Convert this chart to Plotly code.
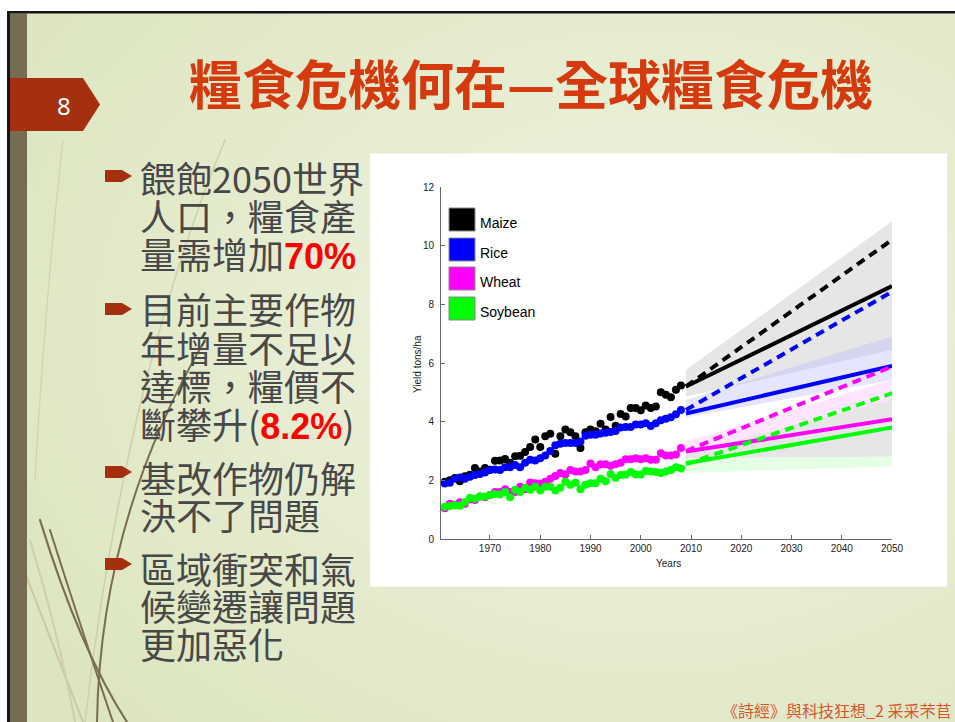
import base64
import plotly.graph_objects as go

W, H = 955, 722
def px(x): return x / W
def py(y): return 1 - y / H

# ---------------- data ----------------
crops = ["Maize", "Rice", "Wheat", "Soybean"]
crop_colors = ["#000000", "#0000FF", "#FF00FF", "#00FF00"]

years_hist = list(range(1961, 2009))
maize_hist = [1.95, 2.0, 2.08, 1.97, 2.14, 2.19, 2.42, 2.3, 2.42, 2.36,
              2.67, 2.68, 2.73, 2.6, 2.82, 2.84, 2.97, 3.14, 3.39, 3.14,
              3.5, 3.59, 2.91, 3.5, 3.73, 3.64, 3.5, 3.1, 3.64, 3.73,
              3.67, 3.93, 3.73, 4.16, 3.86, 4.26, 4.18, 4.47, 4.47, 4.39,
              4.55, 4.47, 4.52, 5.0, 4.92, 4.83, 5.09, 5.23]
rice_hist = [1.89, 1.92, 2.05, 2.1, 2.05, 2.12, 2.18, 2.22, 2.27, 2.35,
             2.37, 2.35, 2.45, 2.45, 2.52, 2.45, 2.6, 2.7, 2.68, 2.75,
             2.85, 3.0, 3.2, 3.25, 3.27, 3.27, 3.27, 3.32, 3.52, 3.55,
             3.55, 3.6, 3.62, 3.65, 3.68, 3.8, 3.82, 3.82, 3.9, 3.9,
             3.95, 3.85, 3.95, 4.05, 4.1, 4.15, 4.25, 4.4]
wheat_hist = [1.05, 1.2, 1.15, 1.25, 1.2, 1.35, 1.33, 1.45, 1.42, 1.5,
              1.6, 1.6, 1.7, 1.6, 1.6, 1.78, 1.7, 1.93, 1.9, 1.88,
              1.95, 2.05, 2.15, 2.25, 2.2, 2.35, 2.3, 2.3, 2.35, 2.57,
              2.45, 2.55, 2.55, 2.5, 2.55, 2.6, 2.72, 2.72, 2.75, 2.72,
              2.75, 2.7, 2.7, 2.92, 2.85, 2.85, 2.88, 3.1]
soy_hist = [1.1, 1.12, 1.15, 1.13, 1.25, 1.4, 1.37, 1.45, 1.45, 1.5,
            1.53, 1.52, 1.6, 1.42, 1.68, 1.6, 1.75, 1.68, 1.78, 1.65,
            1.78, 1.78, 1.65, 1.75, 1.95, 1.85, 1.92, 1.7, 1.85, 1.9,
            1.9, 2.05, 1.97, 2.22, 2.08, 2.18, 2.2, 2.28, 2.2, 2.2,
            2.32, 2.3, 2.28, 2.25, 2.3, 2.35, 2.45, 2.4]

proj_years = [2009, 2050]
maize_trend = [5.2, 8.62]
maize_needed = [5.2, 10.2]
rice_trend = [4.28, 5.9]
rice_needed = [4.4, 8.43]
wheat_trend = [2.98, 4.08]
wheat_needed = [3.0, 5.88]
soy_trend = [2.58, 3.8]
soy_needed = [2.55, 4.97]

# uncertainty bands (low, high) at 2009 and 2050
maize_band_lo = [4.85, 6.45]
maize_band_hi = [5.77, 10.83]
lower_band_lo = [2.76, 2.81]
lower_band_hi = [2.93, 4.74]
rice_band_lo = [4.15, 5.42]
rice_band_hi = [4.74, 6.9]
wheat_band_lo = [2.93, 4.74]
wheat_band_hi = [3.32, 5.42]
soy_band_lo = [2.25, 2.47]
soy_band_hi = [2.76, 2.81]

x_ticks = [1970, 1980, 1990, 2000, 2010, 2020, 2030, 2040, 2050]
y_ticks = [0, 2, 4, 6, 8, 10, 12]

title_text = "糧食危機何在—全球糧食危機"
slide_number = "8"
footer_text = "《詩經》與科技狂想_2 采采芣苢"
bullets = [
    ["餵飽2050世界", "人口，糧食產", "量需增加<b>70%</b>"],
    ["目前主要作物", "年增量不足以", "達標，糧價不", "斷攀升(<b>8.2%</b>)"],
    ["基改作物仍解", "決不了問題"],
    ["區域衝突和氣", "候變遷讓問題", "更加惡化"],
]

# ---------------- background (decoration) ----------------
tag_col = "#A5300F"
svg = f'''<svg xmlns="http://www.w3.org/2000/svg" width="{W}" height="{H}" viewBox="0 0 {W} {H}" preserveAspectRatio="none">
<defs><radialGradient id="g" cx="0.68" cy="0.45" r="0.8">
<stop offset="0" stop-color="#F0F4E2"/><stop offset="1" stop-color="#DCE5BF"/></radialGradient></defs>
<rect width="{W}" height="{H}" fill="#ffffff"/>
<rect x="8" y="12" width="{W-8}" height="{H-12}" fill="url(#g)"/>
<g fill="none" stroke-linecap="round">
<path d="M 225 140 Q 125 380 85 722" stroke="#CFCFA8" stroke-width="1.5"/>
<path d="M 63 140 Q 45 300 35 480" stroke="#D2D2AE" stroke-width="1.2"/>
<path d="M 20 560 Q 55 650 83 722" stroke="#C9C9A2" stroke-width="2"/>
<path d="M 30 540 Q 60 640 75 722" stroke="#CFCFAA" stroke-width="2"/>
<path d="M 205 340 Q 100 520 97 722" stroke="#7A6E50" stroke-width="2"/>
<path d="M 40 520 Q 80 650 127 722" stroke="#7A6E50" stroke-width="2.2"/>
<path d="M 50 530 Q 85 640 113 722" stroke="#7A6E50" stroke-width="2"/>
</g>
<rect x="10" y="13.5" width="17" height="{H}" fill="#756C53"/>
<rect x="7" y="11" width="{W-7}" height="2.5" fill="#151515"/>
<rect x="7" y="11" width="3" height="{H}" fill="#151515"/>
<polygon points="10,78 83,78 100,104.5 83,131 10,131" fill="{tag_col}"/>
<polygon points="105,170 122,170 132,176 122,182 105,182" fill="{tag_col}"/>
<polygon points="105,303 122,303 132,309 122,315 105,315" fill="{tag_col}"/>
<polygon points="105,466 122,466 132,472 122,478 105,478" fill="{tag_col}"/>
<polygon points="105,558 122,558 132,564 122,570 105,570" fill="{tag_col}"/>
<rect x="370" y="153.5" width="577" height="433" fill="#ffffff"/>
</svg>'''
svg_uri = "data:image/svg+xml;base64," + base64.b64encode(svg.encode("utf-8")).decode()

fig = go.Figure()

def band(lo, hi, color):
    fig.add_trace(go.Scatter(
        x=proj_years + proj_years[::-1], y=lo + hi[::-1],
        fill="toself", fillcolor=color, line=dict(width=0),
        mode="lines", hoverinfo="skip", showlegend=False))

band(maize_band_lo, maize_band_hi, "rgba(200,200,200,0.45)")
band(lower_band_lo, lower_band_hi, "rgba(200,200,200,0.45)")
band(rice_band_lo, rice_band_hi, "rgba(180,180,255,0.35)")
band(wheat_band_lo, wheat_band_hi, "rgba(255,170,255,0.30)")
band(soy_band_lo, soy_band_hi, "rgba(170,255,170,0.30)")

trends = [maize_trend, rice_trend, wheat_trend, soy_trend]
needed = [maize_needed, rice_needed, wheat_needed, soy_needed]
for name, col, t, n in zip(crops, crop_colors, trends, needed):
    fig.add_trace(go.Scatter(x=proj_years, y=n, mode="lines",
                             line=dict(color=col, width=4, dash="9px,6px"),
                             showlegend=False, name=name + " needed"))
    fig.add_trace(go.Scatter(x=proj_years, y=t, mode="lines",
                             line=dict(color=col, width=4),
                             showlegend=False, name=name + " trend"))

hists = [maize_hist, rice_hist, wheat_hist, soy_hist]
for name, col, h in zip(crops, crop_colors, hists):
    fig.add_trace(go.Scatter(x=years_hist, y=h, mode="markers",
                             marker=dict(color=col, size=8, line=dict(width=0)),
                             showlegend=False, name=name))

# legend drawn as boxes + labels
shapes = []
annotations = []
leg_tops = [208, 238, 267, 297]
for name, col, top in zip(crops, crop_colors, leg_tops):
    shapes.append(dict(type="rect", xref="paper", yref="paper",
                       x0=px(449), x1=px(475), y0=py(top + 23), y1=py(top),
                       fillcolor=col, line=dict(color="#888888", width=1)))
    annotations.append(dict(text=name, x=px(478), y=py(top + 15), xref="paper", yref="paper",
                            xanchor="left", yanchor="middle", showarrow=False,
                            font=dict(family="Liberation Sans, Arial", size=14, color="#000000")))

# axis titles
annotations.append(dict(text="Years", x=px(668), y=py(563), xref="paper", yref="paper",
                        xanchor="center", yanchor="middle", showarrow=False,
                        font=dict(family="Liberation Sans, Arial", size=10, color="#222222")))
annotations.append(dict(text="Yield tons/ha", x=px(418), y=py(364), xref="paper", yref="paper",
                        xanchor="center", yanchor="middle", showarrow=False, textangle=-90,
                        font=dict(family="Liberation Sans, Arial", size=10, color="#222222")))

# slide title, number, footer
annotations.append(dict(text="<b>" + title_text + "</b>", x=px(531), y=py(82), xref="paper", yref="paper",
                        xanchor="center", yanchor="middle", showarrow=False,
                        font=dict(family="Noto Sans CJK TC", size=53, color="#D53A0E")))
annotations.append(dict(text=slide_number, x=px(64), y=py(105), xref="paper", yref="paper",
                        xanchor="center", yanchor="middle", showarrow=False,
                        font=dict(family="Noto Sans, Liberation Sans", size=24, color="#FFFFFF")))
annotations.append(dict(text=footer_text, x=px(953), y=py(710), xref="paper", yref="paper",
                        xanchor="right", yanchor="middle", showarrow=False,
                        font=dict(family="Noto Sans CJK TC", size=16, color="#D9552E")))

# bullet text lines
line_centers = [[177, 215, 253], [308, 347, 385, 423], [477, 514], [568, 605, 643]]
red_style = "color:#FF0000;font-family:Liberation Sans, Arial;font-weight:bold"
for lines, centers in zip(bullets, line_centers):
    for txt, cy in zip(lines, centers):
        txt = txt.replace("<b>", f'<span style="{red_style}">').replace("</b>", "</span>")
        annotations.append(dict(text=txt, x=px(138), y=py(cy), xref="paper", yref="paper",
                                xanchor="left", yanchor="middle", showarrow=False,
                                font=dict(family="Noto Sans CJK TC", size=36, color="#484848")))

fig.update_layout(
    width=W, height=H, margin=dict(l=0, r=0, t=0, b=0, autoexpand=False),
    paper_bgcolor="#FFFFFF", plot_bgcolor="rgba(0,0,0,0)",
    showlegend=False,
    images=[dict(source=svg_uri, xref="paper", yref="paper", x=0, y=1, sizex=1, sizey=1,
                 xanchor="left", yanchor="top", sizing="stretch", layer="below")],
    shapes=shapes, annotations=annotations,
    xaxis=dict(domain=[px(441), px(892)], range=[1960.25, 2050], tickvals=x_ticks,
               ticks="inside", ticklen=4, tickcolor="#666666", showline=True,
               linecolor="#666666", linewidth=1, showgrid=False, zeroline=False,
               automargin=False,
               tickfont=dict(family="Liberation Sans, Arial", size=10, color="#222222")),
    yaxis=dict(domain=[py(539), py(187)], range=[0, 12], tickvals=y_ticks,
               ticks="inside", ticklen=4, tickcolor="#666666", showline=True,
               linecolor="#666666", linewidth=1, showgrid=False, zeroline=False,
               automargin=False, ticklabelstandoff=4,
               tickfont=dict(family="Liberation Sans, Arial", size=10, color="#222222")),
)

fig.write_html("out.html")
